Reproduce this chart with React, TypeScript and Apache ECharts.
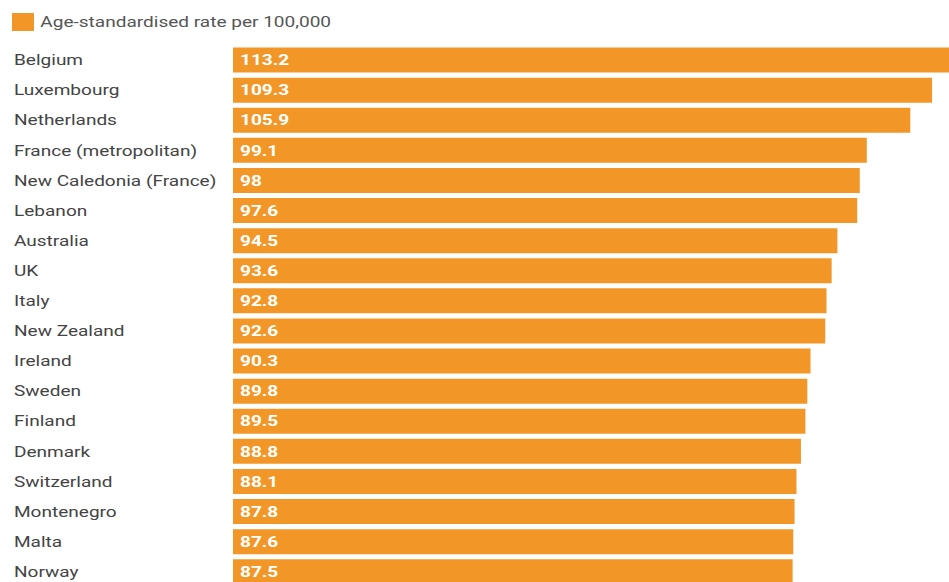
import React, { useEffect, useRef } from "react";
import * as echarts from "echarts";

const categories = [
  "Belgium",
  "Luxembourg",
  "Netherlands",
  "France (metropolitan)",
  "New Caledonia (France)",
  "Lebanon",
  "Australia",
  "UK",
  "Italy",
  "New Zealand",
  "Ireland",
  "Sweden",
  "Finland",
  "Denmark",
  "Switzerland",
  "Montenegro",
  "Malta",
  "Norway",
];

const rates = [
  113.2, 109.3, 105.9, 99.1, 98, 97.6, 94.5, 93.6, 92.8, 92.6, 90.3, 89.8, 89.5,
  88.8, 88.1, 87.8, 87.6, 87.5,
];

const seriesName = "Age-standardised rate per 100,000";

const SX = 1.27;

export default function App() {
  const ref = useRef<HTMLDivElement>(null);
  useEffect(() => {
    if (!ref.current) return;
    const chart = echarts.init(ref.current, undefined, { renderer: "svg" });
    chart.setOption({
      animation: false,
      textStyle: { fontFamily: "Roboto" },
      legend: {
        left: 12 / SX,
        top: 13,
        padding: 0,
        itemWidth: 22 / SX,
        itemHeight: 18,
        itemGap: 10,
        icon: "rect",
        textStyle: { fontSize: 15, color: "#555", fontFamily: "Roboto" },
        data: [seriesName],
      },
      grid: { left: 233 / SX, top: 45, width: 724 / SX, height: 541.8 },
      xAxis: {
        type: "value",
        min: 0,
        max: 113.2,
        show: false,
      },
      yAxis: {
        type: "category",
        inverse: true,
        data: categories,
        axisLine: { show: false },
        axisTick: { show: false },
        splitLine: { show: false },
        axisLabel: {
          align: "left",
          margin: (233 - 14) / SX,
          fontSize: 15,
          color: "#444",
          fontFamily: "Roboto",
        },
      },
      series: [
        {
          name: seriesName,
          type: "bar",
          data: rates,
          barWidth: 25,
          itemStyle: { color: "#F29727" },
          label: {
            show: true,
            position: "insideLeft",
            distance: 7 / SX,
            color: "#fff",
            fontWeight: "bold",
            fontSize: 15,
            fontFamily: "Roboto",
          },
        },
      ],
    });
    return () => chart.dispose();
  }, []);
  return (
    <div
      style={{
        position: "absolute",
        left: 0,
        top: 0,
        width: 949,
        height: 582,
        overflow: "hidden",
        background: "#fff",
      }}
    >
      <div
        ref={ref}
        style={{
          width: 770,
          height: 600,
          transform: `scaleX(${SX})`,
          transformOrigin: "left top",
        }}
      />
    </div>
  );
}
